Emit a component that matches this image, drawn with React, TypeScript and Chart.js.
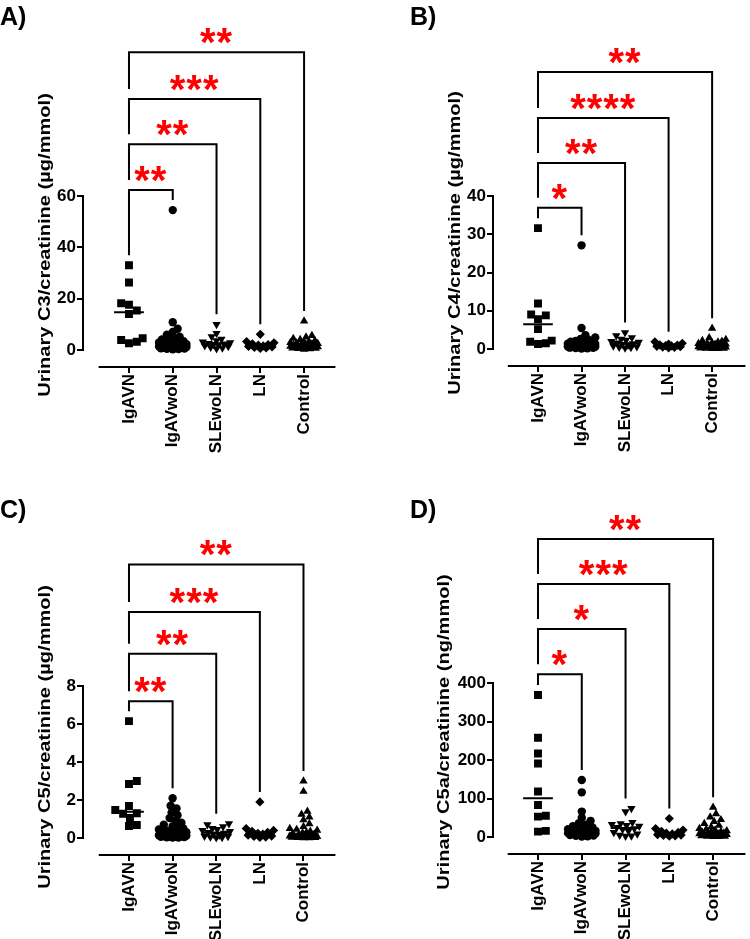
import React, { useEffect, useRef } from "react";
import { Chart, registerables } from "chart.js";
Chart.register(...registerables);

const categories = ["IgAVN", "IgAVwoN", "SLEwoLN", "LN", "Control"];

// Panel A: urinary C3/creatinine (µg/mmol)
const c3IgAVN = [33, 26.3, 18.2, 17.6, 15.4, 14, 4.6, 3.9, 3.2, 2.6];
const c3IgAVwoN = [54.5, 10.8, 8.3, 7, 6, 5.2, 4.6, 4.1, 3.7, 3.4, 3.1, 2.9, 2.7, 2.5, 2.3, 2.1, 2.0, 1.9, 1.8, 1.7, 1.6, 1.5, 1.4, 1.3, 1.2, 1.1, 1.0, 0.9, 0.8, 0.7, 0.6, 0.5, 0.4, 0.3];
const c3SLEwoLN = [10, 6.5, 5.2, 4.2, 3.6, 3.2, 2.9, 2.6, 2.4, 2.2, 2.0, 1.7, 1.4, 1.1, 0.8, 0.5];
const c3LN = [6.1, 3.3, 2.8, 2.4, 2.1, 1.9, 1.6, 1.4, 1.2, 1.0, 0.8, 0.6];
const c3Control = [11.3, 5.6, 5.0, 4.5, 4.1, 3.7, 3.4, 3.1, 2.9, 2.7, 2.5, 2.3, 2.1, 1.9, 1.8, 1.7, 1.6, 1.5, 1.4, 1.3, 1.2, 1.1, 1.0, 0.9, 0.8, 0.7, 0.6, 0.5, 0.4, 0.3];
const c3Ticks = [0, 20, 40, 60];
const c3Brackets = [62.3, 80.2, 97.8, 116];
const c3Stars = ["**", "**", "***", "**"];

// Panel B: urinary C4/creatinine (µg/mmol)
const c4IgAVN = [31.6, 11.9, 9.0, 8.8, 7.8, 5.2, 2.2, 1.9, 1.5, 1.3];
const c4IgAVwoN = [27.1, 5.5, 3.6, 3.0, 2.6, 2.3, 2.1, 1.9, 1.8, 1.7, 1.6, 1.5, 1.4, 1.3, 1.2, 1.1, 1.0, 0.95, 0.9, 0.85, 0.8, 0.75, 0.7, 0.65, 0.6, 0.55, 0.5, 0.45, 0.4, 0.35, 0.3, 0.25, 0.2, 0.15];
const c4SLEwoLN = [4.3, 3.5, 3.0, 2.6, 2.3, 2.0, 1.8, 1.6, 1.4, 1.2, 1.0, 0.8, 0.6, 0.5, 0.4, 0.3];
const c4LN = [1.9, 1.5, 1.3, 1.1, 1.0, 0.9, 0.8, 0.7, 0.6, 0.5, 0.4, 0.3];
const c4Control = [5.4, 2.9, 2.5, 2.2, 2.0, 1.8, 1.6, 1.5, 1.4, 1.3, 1.2, 1.1, 1.0, 0.9, 0.8, 0.75, 0.7, 0.65, 0.6, 0.55, 0.5, 0.45, 0.4, 0.35, 0.3, 0.25, 0.2, 0.15, 0.1, 0.1];
const c4Ticks = [0, 10, 20, 30, 40];
const c4Brackets = [36.9, 48.6, 60.4, 72.4];
const c4Stars = ["*", "**", "****", "**"];

// Panel C: urinary C5/creatinine (µg/mmol)
const c5IgAVN = [6.15, 3.0, 2.84, 1.68, 1.47, 1.3, 1.28, 1.05, 0.68, 0.63];
const c5IgAVwoN = [2.09, 1.7, 1.55, 1.35, 1.2, 1.05, 0.9, 0.8, 0.7, 0.62, 0.55, 0.5, 0.45, 0.4, 0.36, 0.33, 0.3, 0.27, 0.25, 0.22, 0.2, 0.18, 0.16, 0.14, 0.12, 0.1, 0.09, 0.08, 0.07, 0.06, 0.05, 0.04, 0.03, 0.02];
const c5SLEwoLN = [0.75, 0.7, 0.6, 0.5, 0.45, 0.4, 0.35, 0.3, 0.25, 0.2, 0.15, 0.1, 0.08, 0.05, 0.03, 0.02];
const c5LN = [1.9, 0.5, 0.4, 0.35, 0.3, 0.25, 0.2, 0.15, 0.1, 0.08, 0.05, 0.03];
const c5Control = [3.0, 2.45, 1.4, 1.25, 1.1, 0.95, 0.75, 0.6, 0.5, 0.45, 0.4, 0.35, 0.3, 0.27, 0.24, 0.21, 0.18, 0.15, 0.12, 0.1, 0.08, 0.06, 0.05, 0.04, 0.03, 0.02, 0.01, 0.01, 0.02, 0.03];
const c5Ticks = [0, 2, 4, 6, 8];
const c5Brackets = [7.2, 9.7, 11.9, 14.4];
const c5Stars = ["**", "**", "***", "**"];

// Panel D: urinary C5a/creatinine (ng/mmol)
const c5aIgAVN = [369, 258, 217, 191, 118, 83, 55, 53, 16, 14];
const c5aIgAVwoN = [148, 116, 66, 50, 42, 36, 32, 28, 25, 22, 20, 20, 18, 16, 15, 15, 14, 13, 12, 12, 11, 10, 10, 9, 8, 8, 7, 6, 6, 5, 4, 3, 2, 1];
const c5aSLEwoLN = [74, 66, 38, 35, 33, 30, 28, 25, 22, 20, 16, 12, 8, 5, 3, 2];
const c5aLN = [48, 22, 18, 15, 12, 10, 8, 6, 5, 4, 3, 2];
const c5aControl = [77, 60, 52, 45, 40, 35, 30, 26, 22, 20, 18, 16, 14, 12, 12, 10, 9, 8, 8, 7, 6, 5, 5, 4, 3, 3, 2, 2, 1, 1];
const c5aTicks = [0, 100, 200, 300, 400];
const c5aBrackets = [423, 540, 657, 774];
const c5aStars = ["*", "*", "***", "**"];

const pointStyles = ["rect", "circle", "triangle", "rectRot", "triangle"];
const pointRotations = [0, 0, 180, 0, 0];
const pointRadii = [5.6, 4.2, 4.8, 4.6, 4.8];

const FONT = "'Liberation Sans', Arial, Helvetica, sans-serif";

type PanelCfg = {
  letter: string;
  title: string;
  groups: number[][];
  ticks: number[];
  brackets: number[];
  stars: string[];
  left: number;
  top: number;
  height: number;
  tickTopPx: number;
  zeroPx: number;
  xAxisPx: number;
  cat0Px: number;
  catStep: number;
  titleX: number;
  titleCenterY: number;
  letterBaseline: number;
};

const AXIS_LEFT = 83;
const CANVAS_W = 340;

const panels: PanelCfg[] = [
  { letter: "A)", title: "Urinary C3/creatinine (µg/mmol)", groups: [c3IgAVN, c3IgAVwoN, c3SLEwoLN, c3LN, c3Control], ticks: c3Ticks, brackets: c3Brackets, stars: c3Stars,
    left: 0, top: 0, height: 470, tickTopPx: 196, zeroPx: 350, xAxisPx: 367, cat0Px: 130, catStep: 44.75, titleX: 45, titleCenterY: 245, letterBaseline: 25 },
  { letter: "B)", title: "Urinary C4/creatinine (µg/mmol)", groups: [c4IgAVN, c4IgAVwoN, c4SLEwoLN, c4LN, c4Control], ticks: c4Ticks, brackets: c4Brackets, stars: c4Stars,
    left: 410, top: 0, height: 470, tickTopPx: 196, zeroPx: 349, xAxisPx: 366, cat0Px: 129, catStep: 44.5, titleX: 45, titleCenterY: 243, letterBaseline: 25 },
  { letter: "C)", title: "Urinary C5/creatinine (µg/mmol)", groups: [c5IgAVN, c5IgAVwoN, c5SLEwoLN, c5LN, c5Control], ticks: c5Ticks, brackets: c5Brackets, stars: c5Stars,
    left: 0, top: 490, height: 449, tickTopPx: 196, zeroPx: 348, xAxisPx: 365, cat0Px: 130, catStep: 44.6, titleX: 45, titleCenterY: 247, letterBaseline: 28 },
  { letter: "D)", title: "Urinary C5a/creatinine (ng/mmol)", groups: [c5aIgAVN, c5aIgAVwoN, c5aSLEwoLN, c5aLN, c5aControl], ticks: c5aTicks, brackets: c5aBrackets, stars: c5aStars,
    left: 410, top: 490, height: 449, tickTopPx: 193, zeroPx: 347, xAxisPx: 364, cat0Px: 129, catStep: 44.75, titleX: 34, titleCenterY: 242, letterBaseline: 28 },
];

function median(v: number[]): number {
  const s = [...v].sort((a, b) => a - b);
  const n = s.length;
  return n % 2 ? s[(n - 1) / 2] : (s[n / 2 - 1] + s[n / 2]) / 2;
}

// deterministic beeswarm offsets (in category units)
function swarm(values: number[], yPx: number, xPx: number, minDist: number, maxHalf: number): number[] {
  const order = values.map((_, i) => i).sort((a, b) => values[a] - values[b]);
  const placed: { x: number; y: number }[] = [];
  const offs = new Array(values.length).fill(0);
  for (const i of order) {
    const y = values[i] * yPx;
    let best = 0;
    let bestD = -1;
    for (let k = 0; k <= maxHalf * 2; k++) {
      const o = k === 0 ? 0 : k % 2 ? (k + 1) / 2 : -k / 2;
      let dmin = Infinity;
      for (const p of placed) {
        const d = Math.hypot(p.x - o, p.y - y);
        if (d < dmin) dmin = d;
      }
      if (dmin >= minDist) {
        best = o;
        bestD = dmin;
        break;
      }
      if (dmin > bestD + 0.01) {
        bestD = dmin;
        best = o;
      }
    }
    placed.push({ x: best, y });
    offs[i] = best / xPx;
  }
  return offs;
}

function Panel({ cfg }: { cfg: PanelCfg }) {
  const ref = useRef<HTMLCanvasElement>(null);
  useEffect(() => {
    if (!ref.current) return;
    const topTick = cfg.ticks[cfg.ticks.length - 1];
    const yPx = (cfg.zeroPx - cfg.tickTopPx) / topTick;
    const yMin = -(cfg.xAxisPx - cfg.zeroPx) / yPx;
    const xMin = (AXIS_LEFT - cfg.cat0Px) / cfg.catStep;
    const xMax = (CANVAS_W - cfg.cat0Px) / cfg.catStep;

    const medianSets = cfg.groups.map((g, i) => {
      const m = median(g);
      return {
        type: "line" as const,
        data: [{ x: i - 0.34, y: m }, { x: i + 0.34, y: m }],
        borderColor: "#000",
        borderWidth: 2,
        pointRadius: 0,
        showLine: true,
        fill: false,
      };
    });
    const pointSets = cfg.groups.map((g, i) => {
      const offs = swarm(g, yPx, cfg.catStep, i === 0 ? 8 : 6, 14);
      return {
        type: "scatter" as const,
        data: g.map((v, j) => ({ x: i + offs[j], y: v })),
        pointStyle: pointStyles[i],
        rotation: pointRotations[i],
        pointRadius: pointRadii[i],
        backgroundColor: "#000",
        borderColor: "#000",
        borderWidth: 0,
      };
    });

    const decor = {
      id: "decor",
      afterDraw(chart: any) {
        const ctx = chart.ctx as CanvasRenderingContext2D;
        const xs = chart.scales.x;
        const ys = chart.scales.y;
        const area = chart.chartArea;
        ctx.save();
        ctx.strokeStyle = "#000";
        ctx.lineWidth = 2;
        ctx.lineCap = "square";
        // y axis line
        ctx.beginPath();
        ctx.moveTo(area.left, ys.getPixelForValue(0));
        ctx.lineTo(area.left, ys.getPixelForValue(topTick));
        ctx.stroke();
        // x axis line
        ctx.beginPath();
        ctx.moveTo(xs.getPixelForValue(-0.67), area.bottom);
        ctx.lineTo(area.right, area.bottom);
        ctx.stroke();
        // brackets
        ctx.lineCap = "butt";
        ctx.lineJoin = "miter";
        const GAP = 10;
        const groupTop = (g: number) => ys.getPixelForValue(Math.max(...cfg.groups[g]));
        const x0 = xs.getPixelForValue(0);
        ctx.font = `bold 40px ${FONT}`;
        (ctx as any).letterSpacing = "1px";
        const m = ctx.measureText("*");
        const halfH = (m.actualBoundingBoxAscent - m.actualBoundingBoxDescent) / 2;
        cfg.brackets.forEach((lvl, k) => {
          const target = k + 1;
          const y = ys.getPixelForValue(lvl);
          const x1 = xs.getPixelForValue(target);
          const leftEnd = k === 0 ? groupTop(0) - GAP : ys.getPixelForValue(cfg.brackets[k - 1]) - GAP;
          const rightEnd = groupTop(target) - GAP;
          ctx.beginPath();
          ctx.moveTo(x0, leftEnd);
          ctx.lineTo(x0, y);
          ctx.lineTo(x1, y);
          ctx.lineTo(x1, rightEnd);
          ctx.stroke();
          ctx.fillStyle = "#ff0000";
          ctx.textAlign = "center";
          ctx.textBaseline = "alphabetic";
          ctx.fillText(cfg.stars[k], (x0 + x1) / 2, y - 16 + halfH);
        });
        (ctx as any).letterSpacing = "0px";
        // y title (drawn slightly elongated along its reading direction, like the reference)
        ctx.fillStyle = "#000";
        ctx.font = `bold 17px ${FONT}`;
        ctx.translate(cfg.titleX, cfg.titleCenterY);
        ctx.rotate(-Math.PI / 2);
        ctx.scale(1.18, 1);
        ctx.textAlign = "center";
        ctx.textBaseline = "middle";
        ctx.fillText(cfg.title, 0, 0);
        ctx.restore();
        // panel letter
        ctx.save();
        ctx.fillStyle = "#000";
        ctx.font = `bold 25px ${FONT}`;
        ctx.textAlign = "left";
        ctx.textBaseline = "alphabetic";
        ctx.fillText(cfg.letter, 0, cfg.letterBaseline);
        ctx.restore();
      },
    };

    const chart = new Chart(ref.current, {
      type: "scatter",
      data: { datasets: [...medianSets, ...pointSets] as any },
      options: {
        animation: false,
        responsive: false,
        layout: { padding: { top: cfg.tickTopPx, left: 0, right: 0, bottom: 0 } },
        plugins: { legend: { display: false }, tooltip: { enabled: false } },
        scales: {
          x: {
            type: "linear",
            min: xMin,
            max: xMax,
            afterBuildTicks: (s: any) => {
              s.ticks = categories.map((_, i) => ({ value: i }));
            },
            afterFit: (s: any) => {
              s.height = cfg.height - cfg.xAxisPx;
            },
            border: { display: false },
            grid: { drawOnChartArea: false, drawTicks: true, tickLength: 6, color: "#000", lineWidth: 2 },
            ticks: {
              autoSkip: false,
              minRotation: 90,
              maxRotation: 90,
              padding: 1,
              color: "#000",
              font: { family: FONT, size: 17, weight: "bold" },
              callback: (v: any) => categories[Math.round(Number(v))] ?? "",
            },
          },
          y: {
            type: "linear",
            min: yMin,
            max: topTick,
            afterBuildTicks: (s: any) => {
              s.ticks = cfg.ticks.map((v) => ({ value: v }));
            },
            afterFit: (s: any) => {
              s.width = AXIS_LEFT;
            },
            border: { display: false },
            grid: { drawOnChartArea: false, drawTicks: true, tickLength: 6, color: "#000", lineWidth: 2 },
            ticks: {
              autoSkip: false,
              padding: 1,
              color: "#000",
              font: { family: FONT, size: 17, weight: "bold" },
              callback: (v: any) => String(v),
            },
          },
        },
      },
      plugins: [decor],
    } as any);
    return () => chart.destroy();
  }, [cfg]);
  return (
    <canvas
      ref={ref}
      width={CANVAS_W}
      height={cfg.height}
      style={{ position: "absolute", left: cfg.left, top: cfg.top, width: CANVAS_W, height: cfg.height, display: "block" }}
    />
  );
}

export default function App() {
  return (
    <div style={{ position: "absolute", left: 0, top: 0, width: 750, height: 939, background: "#fff" }}>
      {panels.map((p) => (
        <Panel key={p.letter} cfg={p} />
      ))}
    </div>
  );
}
